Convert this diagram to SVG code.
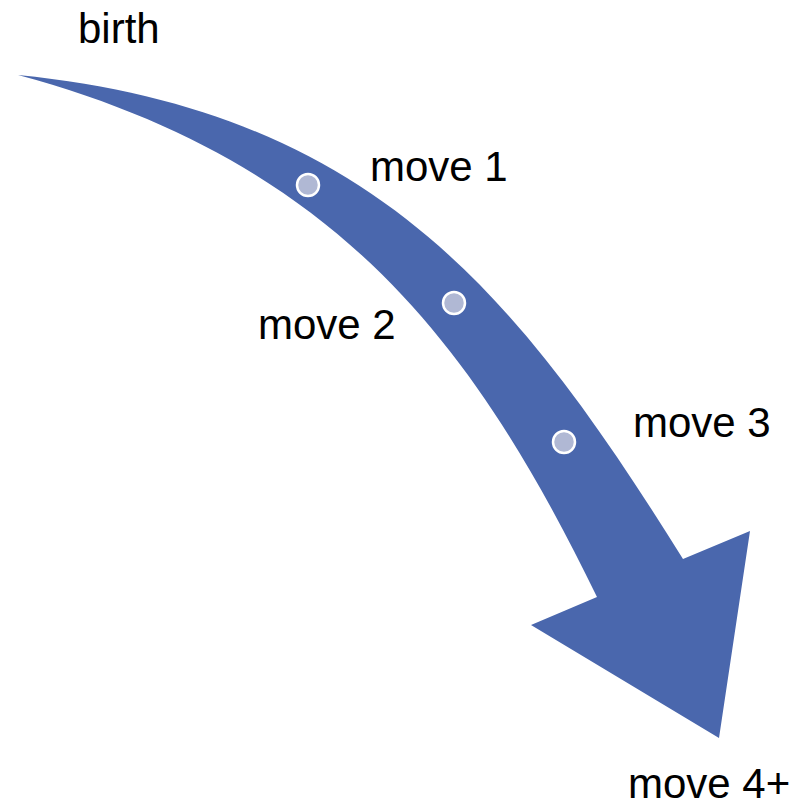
<svg xmlns="http://www.w3.org/2000/svg" width="800" height="807" viewBox="0 0 800 807">
<style>
.lbl{font-family:"Liberation Sans",Arial,sans-serif;font-size:42px;fill:#000}
.dot{fill:#B0B8D4;stroke:#fff;stroke-width:2.5}
.arrow{fill:#4A67AD}
</style>
<rect width="800" height="807" fill="#fff"/>
<g id="connectors">
<path class="arrow" d="M18,75 C373,110.5 518.7,296.1 683,559 L750,531 L719,738 L531,625 L597,597 C474.4,345.3 338,161.4 18,75 Z"/>
</g>
<g id="dot1"><circle class="dot" cx="308" cy="185" r="11"/></g>
<g id="dot2"><circle class="dot" cx="454" cy="303" r="11"/></g>
<g id="dot3"><circle class="dot" cx="564" cy="442" r="11"/></g>
<g id="birth"><text class="lbl" x="78" y="43">birth</text></g>
<g id="move1"><text class="lbl" x="370" y="181">move 1</text></g>
<g id="move2"><text class="lbl" x="258" y="339">move 2</text></g>
<g id="move3"><text class="lbl" x="633" y="437">move 3</text></g>
<g id="move4"><text class="lbl" x="628" y="798">move 4+</text></g>
</svg>
